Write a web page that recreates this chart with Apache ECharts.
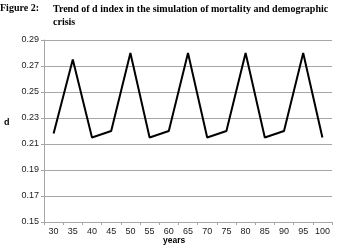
<!DOCTYPE html>
<html>
<head>
<meta charset="utf-8">
<script src="https://cdn.jsdelivr.net/npm/echarts@6/dist/echarts.min.js"></script>
<style>
  html, body { margin: 0; padding: 0; background: #fff; }
  #chart { width: 337px; height: 250px; }
</style>
</head>
<body>
<div id="chart"></div>
<script>
// years on the x axis
const years = ['30', '35', '40', '45', '50', '55', '60', '65', '70', '75', '80', '85', '90', '95', '100']
// d index values
const dIndex = [0.218, 0.275, 0.215, 0.220, 0.280, 0.215, 0.220, 0.280, 0.215, 0.220, 0.280, 0.215, 0.220, 0.280, 0.215]

const chart = echarts.init(document.getElementById('chart'))

const option = {
  animation: false,
  textStyle: { fontFamily: 'Liberation Sans' },
  grid: { left: 44, right: 5, top: 40, bottom: 28 },
  // 标题和轴名用 graphic 文本来放
  graphic: [
    {
      type: 'text', left: 0, top: 3,
      style: { text: 'Figure 2:', font: 'bold 10px "Liberation Serif"', fill: '#000' }
    },
    {
      type: 'text', left: 53, top: 3,
      style: {
        text: 'Trend of d index in the simulation of mortality and demographic\ncrisis',
        font: 'bold 10px "Liberation Serif"', lineHeight: 13, fill: '#000'
      }
    },
    {
      type: 'text', left: 4, top: 118,
      style: { text: 'd', font: 'bold 9px "Liberation Sans"', fill: '#000' }
    },
    {
      type: 'text', left: 163, top: 236,
      style: { text: 'years', font: 'bold 8.5px "Liberation Sans"', fill: '#000' }
    }
  ],
  xAxis: {
    type: 'category',
    data: years,
    boundaryGap: true,
    axisLine: { lineStyle: { color: '#a6a6a6', width: 1 } },
    axisTick: { show: true, length: 3, lineStyle: { color: '#a6a6a6' } },
    axisLabel: { color: '#222', fontSize: 9, margin: 5, interval: 0 },
    splitLine: { show: false }
  },
  yAxis: {
    type: 'value',
    min: 0.15,
    max: 0.29,
    interval: 0.02,
    axisLine: { show: true, lineStyle: { color: '#a6a6a6', width: 1 } },
    axisTick: { show: true, length: 3, lineStyle: { color: '#a6a6a6' } },
    axisLabel: {
      color: '#222', fontSize: 9, margin: 5,
      formatter: (v) => v.toFixed(2)
    },
    splitLine: { show: true, lineStyle: { color: '#a6a6a6', width: 1 } }
  },
  series: [
    {
      type: 'line',
      data: dIndex,
      symbol: 'none',
      lineStyle: { color: '#000', width: 2 }
    }
  ]
}

chart.setOption(option)
</script>
</body>
</html>
